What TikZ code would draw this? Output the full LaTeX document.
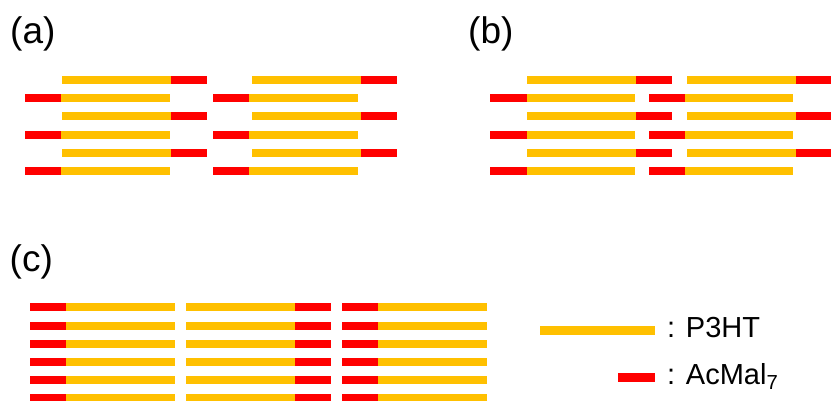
\documentclass[tikz,border=0pt]{standalone}
\usepackage{fontspec}
\setmainfont{Liberation Sans}
\definecolor{p3htyellow}{HTML}{FFC000}
\definecolor{acmalred}{HTML}{FF0000}

\begin{document}
\begin{tikzpicture}[x=1pt,y=-1pt]
  % Styles
  \tikzset{
    p3ht/.style={fill=p3htyellow},
    acmal/.style={fill=acmalred},
    panellabel/.style={anchor=base west, inner sep=0pt, font=\fontsize{37}{42}\selectfont},
    legendtext/.style={anchor=base west, inner sep=0pt, font=\fontsize{29}{34}\selectfont},
  }
  \useasboundingbox (0,0) rectangle (831,400);

  % Panel labels
  \node[panellabel] (labela) at (10,43.3) {(a)};
  \node[panellabel] (labelb) at (468,43.3) {(b)};
  \node[panellabel] (labelc) at (9.5,271) {(c)};

  % (a) two stacks, tails alternating left/right
  \foreach \y in {80,116.4,152.8} {
    \fill[p3ht]  (62,\y-4)    rectangle (170.7,\y+4);
    \fill[acmal] (170.7,\y-4) rectangle (206.7,\y+4);
    \fill[p3ht]  (252,\y-4)   rectangle (360.7,\y+4);
    \fill[acmal] (360.7,\y-4) rectangle (396.7,\y+4);
  }
  \foreach \y in {98.2,134.6,171} {
    \fill[acmal] (25,\y-4)    rectangle (61,\y+4);
    \fill[p3ht]  (61,\y-4)    rectangle (170,\y+4);
    \fill[acmal] (213.3,\y-4) rectangle (249.3,\y+4);
    \fill[p3ht]  (249.3,\y-4) rectangle (358.3,\y+4);
  }

  % (b) tails meet in the middle
  \foreach \y in {80,116.4,152.8} {
    \fill[p3ht]  (527.3,\y-4) rectangle (636,\y+4);
    \fill[acmal] (636,\y-4)   rectangle (672,\y+4);
    \fill[p3ht]  (687.3,\y-4) rectangle (796,\y+4);
    \fill[acmal] (796,\y-4)   rectangle (832,\y+4);
  }
  \foreach \y in {98.2,134.6,171} {
    \fill[acmal] (490.3,\y-4) rectangle (526.7,\y+4);
    \fill[p3ht]  (526.7,\y-4) rectangle (635,\y+4);
    \fill[acmal] (648.7,\y-4) rectangle (684.7,\y+4);
    \fill[p3ht]  (684.7,\y-4) rectangle (793.3,\y+4);
  }

  % (c) three aligned blocks
  \foreach \y in {307.3,325.5,343.7,361.9,380.1,398.3} {
    \fill[acmal] (30,\y-4)    rectangle (66,\y+4);
    \fill[p3ht]  (66,\y-4)    rectangle (175,\y+4);
    \fill[p3ht]  (185.7,\y-4) rectangle (294.7,\y+4);
    \fill[acmal] (294.7,\y-4) rectangle (331,\y+4);
    \fill[acmal] (341.7,\y-4) rectangle (377.7,\y+4);
    \fill[p3ht]  (377.7,\y-4) rectangle (486.7,\y+4);
  }

  % Legend
  \fill[p3ht]  (540,326.3) rectangle (655,335.1);
  \fill[acmal] (618.3,373.3) rectangle (655,382.1);
  \node[legendtext] (keyp3ht)  at (667,337.7) {: P3HT};
  \node[legendtext] (keyacmal) at (667,384) {: AcMal\textsubscript{7}};
\end{tikzpicture}
\end{document}
